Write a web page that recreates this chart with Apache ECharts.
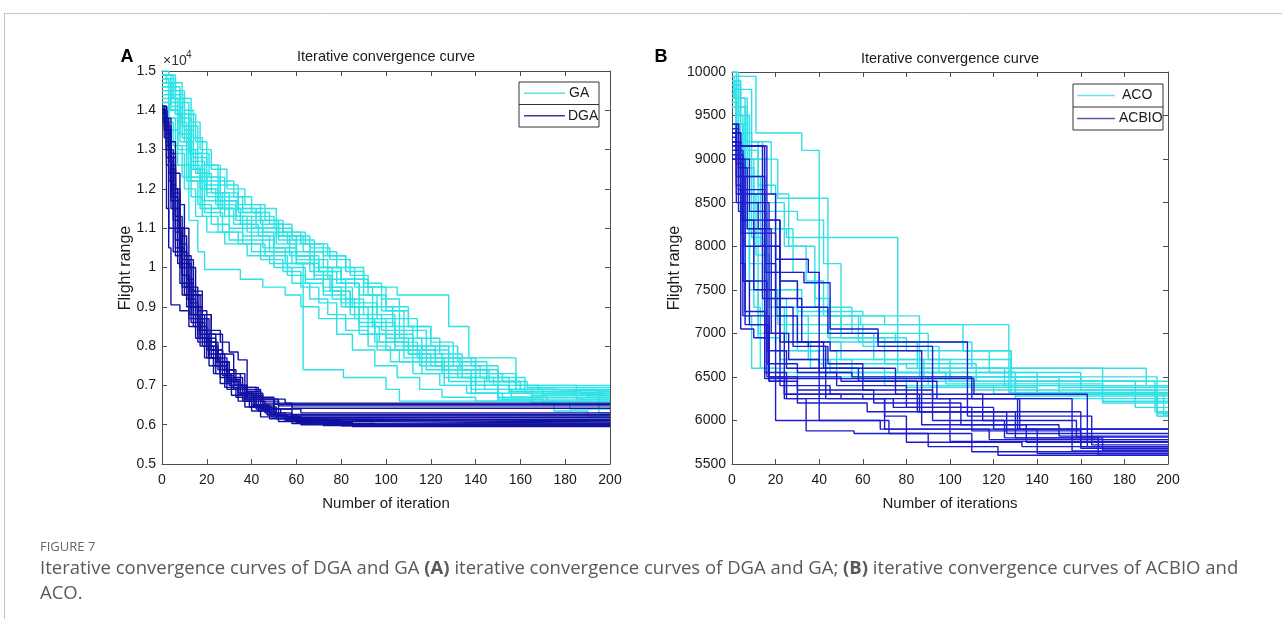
<!DOCTYPE html>
<html>
<head>
<meta charset="utf-8">
<script src="https://cdn.jsdelivr.net/npm/echarts@6/dist/echarts.min.js"></script>
<style>
html,body{margin:0;padding:0;background:#fff;}
#chart{width:1282px;height:619px;}
</style>
</head>
<body>
<div id="chart"></div>
<script>
// ---------- DATA (each run: [iteration, best flight range] change points) ----------
const GA_RUNS = [
  [[0,14800],[3,14600],[6,13900],[12,12900],[18,11500],[30,11000],[45,10500],[55,10100],[63,7400],[81,7200],[100,6900],[106,6600],[200,6600]],
  [[0,14900],[2,14700],[5,14300],[9,13600],[13,12500],[17,11500],[51,10800],[57,10300],[66,9900],[72,9500],[80,9100],[88,8600],[95,8100],[110,7800],[125,7400],[140,7000],[155,6800],[200,6800]],
  [[0,14500],[4,14200],[8,13200],[13,12300],[20,11800],[28,11300],[38,10900],[50,10500],[60,10100],[70,9900],[80,9700],[92,9500],[105,9300],[128,8500],[137,7700],[158,7000],[200,7000]],
  [[0,14200],[3,13500],[7,12600],[12,11200],[16,10400],[19,9950],[35,9700],[45,9500],[55,9300],[62,9000],[70,8700],[78,8300],[85,7900],[95,7500],[105,7200],[115,6900],[125,6700],[140,6600],[200,6600]],
  [[0,14900],[4,14500],[8,13800],[12,13000],[16,12400],[22,11900],[30,11300],[40,11000],[52,10700],[60,10300],[68,9800],[75,9400],[84,8800],[92,8300],[100,7900],[112,7600],[125,7300],[138,7000],[150,6800],[165,6700],[200,6700]],
  [[0,14400],[3,14000],[7,13400],[11,12600],[17,12000],[24,11600],[33,11200],[45,10900],[56,10600],[66,10200],[74,9700],[82,9200],[90,8800],[98,8400],[108,8000],[118,7700],[130,7500],[142,7200],[155,6900],[170,6750],[185,6650],[200,6650]],
  [[0,14700],[5,14300],[10,13500],[14,12800],[20,12300],[26,11900],[34,11500],[42,11300],[50,11000],[58,10700],[68,10400],[78,10000],[86,9500],[94,9000],[103,8500],[112,8000],[122,7700],[133,7400],[145,7100],[158,6900],[175,6800],[190,6700],[200,6700]],
  [[0,15000],[3,14900],[6,14500],[10,14000],[14,13300],[18,12600],[25,12200],[32,11800],[40,11400],[48,11100],[58,10800],[66,10500],[75,10200],[84,9800],[92,9300],[100,8900],[110,8500],[120,8100],[130,7700],[140,7400],[150,7100],[160,6900],[175,6850],[200,6850]],
  [[0,14600],[4,14100],[9,13300],[13,12200],[19,11400],[27,10900],[36,10600],[46,10300],[56,10000],[64,9700],[72,9400],[80,9000],[88,8500],[97,8100],[108,7700],[118,7400],[128,7100],[140,6800],[152,6650],[200,6650]],
  [[0,14300],[3,14000],[7,13100],[12,12300],[18,11700],[26,11300],[36,10800],[48,10400],[58,10100],[68,9700],[76,9200],[86,8700],[95,8300],[104,7900],[115,7500],[126,7200],[138,6900],[150,6700],[165,6550],[175,6350],[190,6200],[200,6200]],
  [[0,14800],[4,14600],[8,14200],[12,13600],[16,12900],[21,12300],[28,11800],[36,11400],[44,11200],[52,10900],[62,10600],[72,10300],[82,9900],[90,9500],[100,9000],[110,8500],[120,8000],[132,7600],[145,7300],[158,7000],[168,6900],[200,6900]],
  [[0,14100],[2,13800],[6,12900],[10,12000],[15,11300],[20,10900],[28,10600],[38,10300],[48,10100],[56,9800],[64,9600],[72,9300],[82,9000],[92,8700],[100,8200],[110,7800],[120,7500],[132,7200],[144,6900],[156,6700],[172,6600],[182,6400],[200,6400]],
  [[0,14500],[3,14300],[7,13700],[11,13000],[15,12400],[20,11900],[27,11500],[35,11100],[43,10800],[50,10500],[60,10200],[70,9900],[78,9600],[88,9300],[96,8800],[104,8300],[112,7900],[122,7500],[134,7200],[148,7000],[162,6800],[180,6750],[200,6750]],
  [[0,14900],[5,14700],[9,14300],[13,13700],[17,13000],[22,12500],[29,12000],[37,11600],[46,11200],[54,10800],[63,10400],[72,10000],[80,9600],[88,9100],[96,8700],[106,8200],[116,7900],[128,7600],[140,7300],[152,7100],[163,6950],[200,6950]],
  [[0,14200],[3,13800],[7,13000],[11,12200],[16,11600],[22,11100],[30,10700],[40,10400],[50,10000],[58,9600],[66,9200],[74,8800],[82,8400],[92,8000],[102,7600],[112,7300],[124,7000],[136,6800],[150,6650],[170,6550],[200,6550]],
  [[0,14700],[4,14400],[8,13800],[13,12900],[18,12200],[25,11700],[33,11300],[42,11000],[51,10600],[60,10300],[70,10000],[80,9700],[90,9300],[98,8900],[108,8400],[118,8000],[128,7700],[138,7500],[150,7200],[162,7000],[185,6900],[195,6300],[200,6300]],
  [[0,14400],[4,14000],[8,13400],[13,12700],[19,12100],[26,11700],[34,11400],[44,11100],[54,10900],[64,10600],[74,10300],[82,10000],[90,9600],[98,9200],[106,8700],[114,8200],[124,7800],[134,7400],[146,7100],[160,6900],[176,6850],[200,6850]],
  [[0,14000],[2,13700],[5,13100],[9,12300],[13,11800],[18,11300],[25,10900],[34,10600],[44,10200],[54,9900],[62,9500],[70,9100],[78,8700],[88,8300],[96,7900],[106,7600],[116,7300],[126,7000],[138,6800],[150,6600],[200,6600]],
  [[0,14600],[3,14400],[6,13900],[10,13200],[14,12500],[19,12000],[25,11500],[32,11100],[40,10700],[50,10400],[60,10100],[68,9800],[76,9400],[84,9000],[94,8600],[104,8100],[114,7700],[126,7400],[138,7100],[150,6900],[165,6750],[200,6750]],
  [[0,14900],[2,14800],[6,14400],[10,13900],[15,13200],[20,12600],[26,12100],[34,11600],[44,11200],[52,10800],[60,10400],[68,10000],[76,9500],[85,9000],[94,8500],[104,8000],[116,7600],[128,7300],[140,7000],[155,6850],[180,6800],[200,6800]]
];

const DGA_RUNS = [
  [[0,14100],[2,13500],[4,12500],[6,11300],[8,10400],[11,9600],[14,9000],[18,8400],[22,7900],[27,7400],[32,7000],[38,6800],[45,6650],[55,6550],[200,6550]],
  [[0,13900],[1,13600],[3,12800],[5,11800],[7,10900],[9,10100],[12,9400],[15,8800],[19,8200],[24,7700],[29,7300],[35,6950],[42,6700],[50,6520],[200,6520]],
  [[0,14000],[2,13100],[4,11900],[6,10700],[9,9800],[12,9100],[16,8500],[20,8000],[25,7600],[30,7200],[36,6900],[44,6650],[52,6480],[200,6480]],
  [[0,13700],[2,11500],[3,10500],[4,9050],[8,8900],[12,8500],[16,8100],[21,7700],[26,7300],[31,7000],[37,6750],[45,6550],[58,6420],[200,6420]],
  [[0,14000],[2,13000],[4,12000],[7,11000],[10,10200],[14,9400],[18,8800],[22,8400],[26,8100],[30,7850],[34,7650],[38,6850],[44,6600],[52,6400],[62,6300],[200,6300]],
  [[0,14100],[1,13800],[3,13000],[5,12000],[7,11000],[9,10000],[11,9300],[14,8700],[17,8200],[21,7700],[26,7200],[31,6900],[36,6600],[42,6400],[50,6260],[200,6260]],
  [[0,13900],[2,13400],[4,12600],[6,11700],[8,10800],[11,10000],[14,9300],[17,8700],[21,8100],[25,7600],[30,7100],[35,6800],[41,6500],[48,6300],[58,6220],[200,6220]],
  [[0,14000],[2,12800],[4,11500],[6,10300],[9,9300],[12,8700],[15,8200],[19,7700],[23,7300],[28,6950],[33,6700],[39,6450],[47,6250],[56,6180],[200,6180]],
  [[0,13800],[2,13000],[4,11800],[7,10500],[10,9500],[13,8800],[17,8300],[21,7800],[26,7300],[31,6950],[37,6650],[44,6400],[52,6200],[62,6140],[200,6140]],
  [[0,14050],[1,13700],[3,12700],[5,11500],[8,10400],[11,9500],[14,8800],[18,8200],[22,7700],[27,7250],[32,6900],[38,6600],[46,6300],[55,6150],[64,6100],[200,6100]],
  [[0,13900],[2,13300],[4,12400],[6,11300],[9,10200],[12,9300],[15,8700],[19,8100],[24,7600],[29,7150],[35,6800],[42,6500],[50,6250],[60,6120],[75,6070],[200,6070]],
  [[0,14000],[2,12600],[3,11000],[5,10400],[8,9600],[11,9000],[14,8500],[18,8000],[23,7500],[28,7100],[34,6750],[41,6450],[49,6200],[58,6080],[80,6040],[200,6040]],
  [[0,14100],[2,13600],[4,12900],[6,12000],[8,11000],[10,10100],[13,9300],[16,8700],[20,8100],[24,7600],[29,7150],[34,6800],[40,6500],[47,6250],[55,6100],[66,6020],[200,6020]],
  [[0,13800],[1,13300],[3,12200],[5,11000],[7,10100],[10,9300],[13,8600],[17,8000],[21,7500],[26,7050],[31,6750],[37,6450],[44,6200],[52,6080],[62,6000],[200,6000]],
  [[0,14000],[2,13200],[4,12100],[6,10900],[9,9800],[12,9000],[16,8400],[20,7900],[25,7400],[30,7000],[36,6650],[43,6350],[51,6150],[60,6050],[72,5980],[200,5980]],
  [[0,13900],[2,13500],[4,12800],[6,11900],[8,11000],[10,10300],[13,9500],[16,8900],[20,8300],[24,7800],[28,7400],[33,7000],[38,6700],[44,6450],[51,6250],[60,6100],[80,5970],[200,5970]],
  [[0,14100],[2,13000],[4,11700],[6,10500],[9,9500],[12,8800],[16,8200],[20,7700],[24,7300],[29,6900],[34,6600],[40,6350],[48,6150],[58,6030],[95,5960],[200,5960]],
  [[0,13950],[2,13400],[4,12500],[6,11500],[8,10600],[11,9700],[14,9000],[18,8400],[22,7900],[27,7400],[32,7000],[38,6700],[45,6400],[53,6200],[62,6060],[85,5950],[200,5950]],
  [[0,14000],[1,13500],[3,12400],[5,11200],[8,10000],[11,9200],[15,8600],[19,8000],[24,7500],[29,7100],[35,6750],[41,6450],[48,6250],[56,6120],[64,6020],[200,6020]],
  [[0,14100],[2,13800],[4,13200],[6,12400],[8,11600],[10,11000],[12,10000],[15,9300],[18,8800],[22,8300],[27,7800],[32,7300],[37,6950],[43,6650],[50,6400],[58,6250],[200,6250]]
];

const ACO_RUNS = [
  [[0,9700],[1,9950],[11,9300],[32,9100],[40,7250],[60,7200],[86,6500],[130,6450],[200,6450]],
  [[0,9800],[3,9500],[8,9000],[21,8550],[44,7200],[70,7100],[106,6800],[128,6300],[200,6300]],
  [[0,9900],[2,9400],[5,8800],[14,8200],[25,8100],[76,6550],[130,6250],[200,6250]],
  [[0,9600],[3,9000],[7,8200],[12,7500],[30,7250],[45,7200],[59,7100],[127,6320],[195,6100],[200,6100]],
  [[0,9700],[2,9200],[5,8500],[8,7600],[12,7000],[20,6800],[40,6650],[80,6600],[190,6400],[200,6400]],
  [[0,10000],[2,9600],[6,8900],[10,8000],[16,7400],[25,7000],[45,6900],[106,6800],[128,6500],[150,6380],[200,6380]],
  [[0,9800],[2,9000],[4,8000],[6,7200],[9,6600],[20,6550],[60,6450],[110,6350],[195,6050],[200,6050]],
  [[0,9900],[3,9600],[7,9100],[12,8400],[16,7700],[22,7200],[35,6700],[55,6500],[90,6400],[150,6320],[200,6320]],
  [[0,9600],[2,9300],[6,8600],[11,7900],[17,7300],[24,6900],[36,6600],[70,6400],[120,6300],[200,6300]],
  [[0,10000],[3,9800],[9,9200],[18,8600],[26,8000],[38,7400],[45,7000],[65,6700],[100,6500],[160,6400],[200,6400]],
  [[0,9750],[2,9200],[5,8400],[8,7800],[14,7200],[25,6900],[50,6700],[88,6500],[130,6280],[200,6280]],
  [[0,9850],[4,9500],[8,9000],[15,8400],[30,8300],[42,7800],[50,7000],[75,6900],[110,6600],[170,6220],[200,6220]],
  [[0,9650],[3,9100],[6,8300],[10,7300],[13,6600],[30,6500],[80,6380],[140,6300],[195,6080],[200,6080]],
  [[0,9900],[2,9700],[6,9200],[12,8700],[20,8200],[28,7700],[38,7300],[55,7000],[90,6700],[128,6500],[195,6050],[200,6050]],
  [[0,9800],[3,9400],[7,8800],[13,8000],[20,7500],[32,7200],[50,6950],[80,6800],[118,6550],[160,6350],[200,6350]],
  [[0,9700],[2,9400],[5,8900],[9,8100],[14,7500],[21,7100],[30,6800],[48,6550],[100,6450],[185,6150],[200,6150]],
  [[0,9950],[3,9700],[7,9200],[14,8500],[24,8000],[34,7600],[42,7200],[58,6900],[85,6600],[125,6400],[200,6400]],
  [[0,9600],[2,9000],[5,8200],[8,7500],[12,6950],[22,6700],[45,6550],[98,6420],[170,6200],[200,6200]],
  [[0,9850],[2,9500],[5,9000],[10,8300],[15,7700],[22,7300],[30,7100],[44,6950],[70,6650],[112,6450],[194,6100],[200,6100]],
  [[0,9700],[1,9900],[4,9300],[9,8600],[15,8000],[22,7600],[30,7300],[40,7100],[60,6850],[95,6550],[140,6300],[198,6060],[200,6060]]
];

const ACBIO_RUNS = [
  [[0,9300],[2,9400],[3,9150],[15,6480],[111,6300],[163,5700],[200,5700]],
  [[0,9200],[3,9150],[16,6500],[50,6450],[94,6250],[131,5900],[200,5900]],
  [[0,9100],[3,8650],[15,7000],[24,6300],[60,6250],[100,6100],[160,5680],[200,5680]],
  [[0,9350],[2,9000],[4,8300],[22,6400],[45,6300],[86,6100],[126,5850],[200,5850]],
  [[0,9050],[2,8700],[4,8150],[20,6000],[68,5900],[118,5780],[200,5780]],
  [[0,9200],[3,8800],[6,8000],[15,7700],[33,7580],[45,7050],[67,6900],[108,6050],[165,5720],[200,5720]],
  [[0,9300],[2,9100],[5,8300],[10,7500],[20,7200],[30,6900],[45,6800],[87,5950],[150,5820],[200,5820]],
  [[0,9400],[3,9000],[6,8600],[20,7850],[35,7700],[40,6550],[55,6500],[110,6250],[156,5650],[200,5650]],
  [[0,9000],[2,8600],[5,7600],[8,7100],[17,6450],[30,6200],[62,6100],[100,5900],[140,5620],[200,5620]],
  [[0,9150],[3,8900],[7,8200],[14,7400],[22,6900],[35,6850],[43,6250],[74,6150],[120,5900],[200,5900]],
  [[0,9250],[2,8800],[5,7200],[17,6500],[25,6250],[70,6050],[80,5750],[133,5700],[200,5700]],
  [[0,9350],[3,9000],[8,8400],[15,7800],[20,7300],[28,6850],[44,6650],[60,6350],[92,6000],[125,5800],[168,5600],[200,5600]],
  [[0,9100],[2,9300],[4,7050],[10,6950],[17,6500],[30,6350],[65,6200],[105,5950],[135,5750],[200,5750]],
  [[0,9200],[3,8400],[5,7600],[16,6800],[25,6600],[40,6000],[72,5850],[110,5640],[200,5640]],
  [[0,9300],[4,9150],[14,8000],[22,7400],[32,6900],[42,6600],[58,6450],[85,6100],[130,5800],[170,5660],[200,5660]],
  [[0,9000],[2,8500],[4,7800],[6,7250],[15,6550],[25,6300],[50,6250],[70,5900],[100,5760],[200,5760]],
  [[0,9250],[2,8950],[5,8500],[17,6450],[24,6250],[34,5880],[56,5850],[90,5700],[122,5600],[200,5600]],
  [[0,9150],[3,8600],[6,7100],[16,6650],[30,6550],[48,6400],[80,6150],[110,5880],[160,5700],[200,5700]],
  [[0,9300],[2,9050],[5,8800],[15,8300],[22,7600],[30,7300],[44,7000],[67,6850],[92,6250],[132,5900],[200,5900]],
  [[0,9400],[2,9200],[4,8500],[12,8200],[18,7000],[26,6700],[40,6600],[75,6300],[115,6000],[158,5810],[200,5810]]
];

const PANEL_TITLES = ['Iterative convergence curve', 'Iterative convergence curve'];
const X_NAMES = ['Number of iteration', 'Number of iterations'];
const Y_NAME = 'Flight range';
const LEGEND_A = ['GA', 'DGA'];
const LEGEND_B = ['ACO', 'ACBIO'];
const CAPTION_HEAD = 'FIGURE 7';

// ---------- STYLE ----------
const CYAN_A = '#2ce2e4', BLUE_A = '#1010a2';
const CYAN_B = '#33dfe6', BLUE_B = '#1c1ccc';
const FONT = "'Liberation Sans', Arial, sans-serif";
const CAPF = "'Open Sans', sans-serif";
const AX = '#4d4d4d';

function runsToSeries(runs, color, xi, yi) {
  return runs.map(r => ({
    type: 'line', step: 'end', data: r, xAxisIndex: xi, yAxisIndex: yi,
    showSymbol: false, symbol: 'none', silent: true, animation: false,
    lineStyle: { color: color, width: 1.4 }
  }));
}

function xAx(gi, pos, show) {
  return {
    type: 'value', gridIndex: gi, position: pos, min: 0, max: 200, interval: 20,
    axisLine: { show: true, onZero: false, lineStyle: { color: AX, width: 1 } },
    axisTick: { show: true, inside: true, length: 5, lineStyle: { color: AX } },
    axisLabel: { show: show, color: '#1a1a1a', fontFamily: FONT, fontSize: 14, margin: 9 },
    splitLine: { show: false }
  };
}
function yAx(gi, pos, show, mn, mx, itv, fmt) {
  return {
    type: 'value', gridIndex: gi, position: pos, min: mn, max: mx, interval: itv,
    axisLine: { show: true, onZero: false, lineStyle: { color: AX, width: 1 } },
    axisTick: { show: true, inside: true, length: 5, lineStyle: { color: AX } },
    axisLabel: { show: show, color: '#1a1a1a', fontFamily: FONT, fontSize: 14, margin: 6, formatter: fmt },
    splitLine: { show: false }
  };
}

function legendBox(x, y, w, h, names, colors, lineX1, lineX2, textXs) {
  const els = [];
  els.push({ type: 'rect', z: 100, shape: { x: x, y: y, width: w, height: h }, style: { fill: '#fff', stroke: '#333', lineWidth: 1 } });
  els.push({ type: 'line', z: 101, shape: { x1: x, y1: y + h / 2, x2: x + w, y2: y + h / 2 }, style: { stroke: '#333', lineWidth: 1 } });
  for (let i = 0; i < 2; i++) {
    const cy = y + h / 4 + i * h / 2;
    els.push({ type: 'line', z: 101, shape: { x1: lineX1, y1: cy, x2: lineX2, y2: cy }, style: { stroke: colors[i], lineWidth: 1.3 } });
    els.push({ type: 'text', z: 101, x: textXs[i], y: cy, style: { text: names[i], fill: '#1a1a1a', font: '14px ' + FONT, textVerticalAlign: 'middle', textAlign: 'left' } });
  }
  return els;
}

const chart = echarts.init(document.getElementById('chart'), null, { renderer: 'canvas' });

const graphics = [
  { type: 'line', shape: { x1: 4, y1: 13.5, x2: 1282, y2: 13.5 }, style: { stroke: '#c4c4c4', lineWidth: 1 } },
  { type: 'line', shape: { x1: 4.5, y1: 13, x2: 4.5, y2: 619 }, style: { stroke: '#c4c4c4', lineWidth: 1 } },
  { type: 'text', x: 127, y: 57, style: { text: 'A', font: 'bold 18px ' + FONT, fill: '#000', textAlign: 'center', textVerticalAlign: 'middle' } },
  { type: 'text', x: 661, y: 57, style: { text: 'B', font: 'bold 18px ' + FONT, fill: '#000', textAlign: 'center', textVerticalAlign: 'middle' } },
  { type: 'text', x: 163, y: 61, style: { text: '×10', font: '14px ' + FONT, fill: '#333', textAlign: 'left', textVerticalAlign: 'middle' } },
  { type: 'text', x: 186, y: 55, style: { text: '4', font: '10px ' + FONT, fill: '#333', textAlign: 'left', textVerticalAlign: 'middle' } },
  { type: 'text', x: 386, y: 57, style: { text: PANEL_TITLES[0], font: '14.5px ' + FONT, fill: '#1a1a1a', textAlign: 'center', textVerticalAlign: 'middle' } },
  { type: 'text', x: 950, y: 59, style: { text: PANEL_TITLES[1], font: '14.5px ' + FONT, fill: '#1a1a1a', textAlign: 'center', textVerticalAlign: 'middle' } },
  { type: 'text', x: 386, y: 504, style: { text: X_NAMES[0], font: '15px ' + FONT, fill: '#1a1a1a', textAlign: 'center', textVerticalAlign: 'middle' } },
  { type: 'text', x: 950, y: 504, style: { text: X_NAMES[1], font: '15px ' + FONT, fill: '#1a1a1a', textAlign: 'center', textVerticalAlign: 'middle' } },
  { type: 'text', x: 126, y: 268, rotation: Math.PI / 2, style: { text: Y_NAME, font: '16px ' + FONT, fill: '#1a1a1a', textAlign: 'center', textVerticalAlign: 'middle' } },
  { type: 'text', x: 675, y: 268, rotation: Math.PI / 2, style: { text: Y_NAME, font: '16px ' + FONT, fill: '#1a1a1a', textAlign: 'center', textVerticalAlign: 'middle' } },
  { type: 'text', x: 40, y: 547, style: { text: CAPTION_HEAD, font: '13px ' + CAPF, fill: '#666', textAlign: 'left', textVerticalAlign: 'middle' } },
  { type: 'text', x: 40, y: 569, style: {
      text: 'Iterative convergence curves of DGA and GA {b|(A)} iterative convergence curves of DGA and GA; {b|(B)} iterative convergence curves of ACBIO and',
      font: '18.5px ' + CAPF, fill: '#595959', textAlign: 'left', textVerticalAlign: 'middle',
      rich: { b: { fontWeight: 'bold', fontFamily: 'Open Sans', fontSize: 18.5, fill: '#595959' } } } },
  { type: 'text', x: 40, y: 594, style: { text: 'ACO.', font: '18.5px ' + CAPF, fill: '#595959', textAlign: 'left', textVerticalAlign: 'middle' } }
].concat(
  legendBox(519, 82, 80, 45, LEGEND_A, ['#5fe0d8', '#3c3c9c'], 524, 565, [569, 568]),
  legendBox(1073, 84, 90, 46, LEGEND_B, ['#6fe0e6', '#5a5aaa'], 1077, 1115, [1122, 1119])
);

const option = {
  backgroundColor: '#fff',
  animation: false,
  grid: [
    { left: 162, top: 71, width: 448, height: 393, containLabel: false },
    { left: 732, top: 72, width: 436, height: 392, containLabel: false }
  ],
  xAxis: [xAx(0, 'bottom', true), xAx(0, 'top', false), xAx(1, 'bottom', true), xAx(1, 'top', false)],
  yAxis: [
    yAx(0, 'left', true, 5000, 15000, 1000, v => String(v / 10000)),
    yAx(0, 'right', false, 5000, 15000, 1000),
    yAx(1, 'left', true, 5500, 10000, 500, v => String(v)),
    yAx(1, 'right', false, 5500, 10000, 500)
  ],
  series: [].concat(
    runsToSeries(GA_RUNS, CYAN_A, 0, 0),
    runsToSeries(DGA_RUNS, BLUE_A, 0, 0),
    runsToSeries(ACO_RUNS, CYAN_B, 2, 2),
    runsToSeries(ACBIO_RUNS, BLUE_B, 2, 2)
  ),
  graphic: { elements: graphics }
};
chart.setOption(option);
</script>
</body>
</html>
